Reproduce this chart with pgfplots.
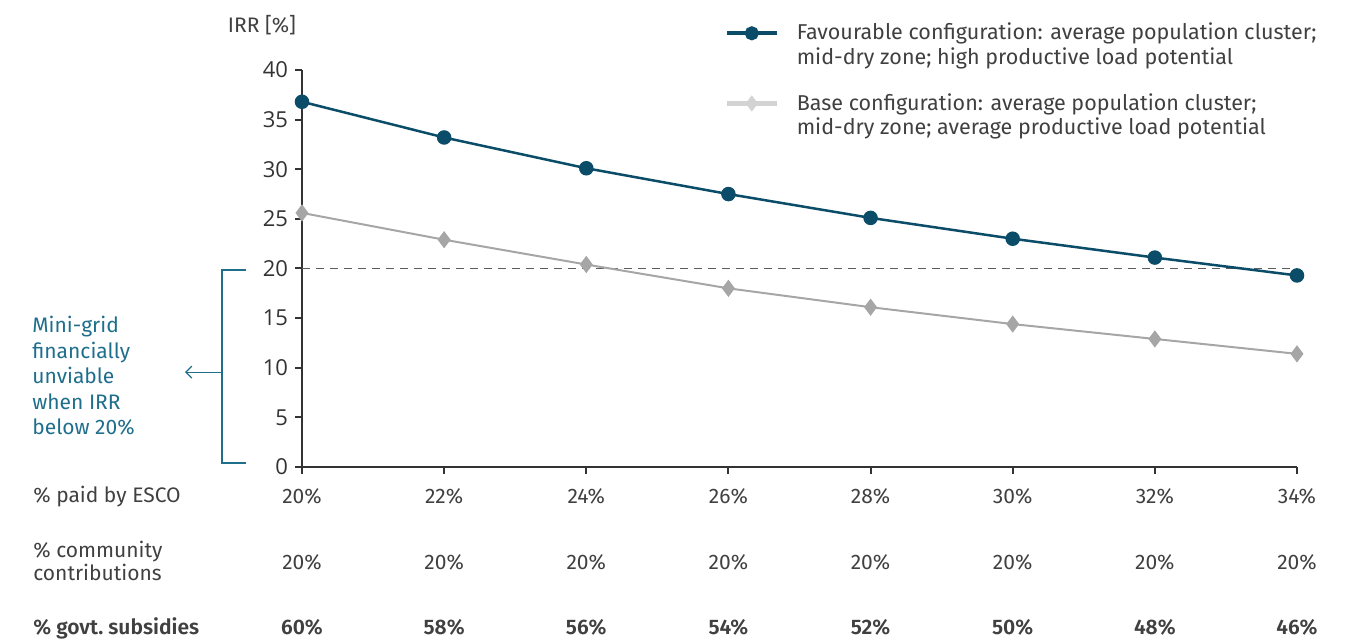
\documentclass[border=0pt]{standalone}
\usepackage{fontspec}
\setmainfont{Fira Sans}[BoldFont={Fira Sans SemiBold}]
\newfontfamily\tickfont{Open Sans}
\usepackage{pgfplots}
\pgfplotsset{compat=1.18}
\usetikzlibrary{arrows.meta}

\definecolor{fav}{HTML}{0B4D68}
\definecolor{base}{HTML}{A6A6A6}
\definecolor{baseleg}{HTML}{D3D3D3}
\definecolor{txt}{HTML}{404040}
\definecolor{axc}{HTML}{333333}
\definecolor{note}{HTML}{1F6E8C}

\begin{document}
\begin{tikzpicture}[font=\fontsize{10.5}{12.6}\selectfont, text=txt]
\begin{axis}[
  scale only axis, width=497.5pt, height=198.5pt,
  xmin=0, xmax=7, ymin=0, ymax=40,
  axis lines*=left,
  axis line style={axc, line width=1pt},
  tick style={axc, line width=1pt},
  tick align=outside, major tick length=3.5pt,
  ytick={0,5,...,40},
  xtick={0,...,7},
  xticklabels={
    {20\%\\[20pt]20\%\\[20pt]\textbf{60\%}},
    {22\%\\[20pt]20\%\\[20pt]\textbf{58\%}},
    {24\%\\[20pt]20\%\\[20pt]\textbf{56\%}},
    {26\%\\[20pt]20\%\\[20pt]\textbf{54\%}},
    {28\%\\[20pt]20\%\\[20pt]\textbf{52\%}},
    {30\%\\[20pt]20\%\\[20pt]\textbf{50\%}},
    {32\%\\[20pt]20\%\\[20pt]\textbf{48\%}},
    {34\%\\[20pt]20\%\\[20pt]\textbf{46\%}}},
  xticklabel style={align=center, text=txt, yshift=-4pt},
  yticklabel style={font=\tickfont\fontsize{11}{13}\selectfont, text=axc,
    /pgf/number format/assume math mode=true},
  clip=false,
  legend style={at={(axis description cs:0.418,1.139)}, anchor=north west,
    draw=none, fill=none, row sep=9pt,
    cells={align=left, anchor=west},
    font=\fontsize{10.75}{12.2}\selectfont},
  legend image code/.code={
    \path[draw=none, fill=none] (0pt,-9pt) rectangle (33pt,9pt);
    \draw[yshift=6pt, mark repeat=2, mark phase=2] plot coordinates {(0pt,0pt) (12.5pt,0pt) (25pt,0pt)};}
]
% 20% threshold
\addplot[color=axc!80, dash pattern=on 4pt off 3pt, line width=0.6pt, forget plot]
  coordinates {(0,20) (7,20)};

% Base configuration
\addplot[base, line width=1pt, mark=diamond*, mark size=3.5pt, forget plot]
  coordinates {(0,25.6) (1,22.9) (2,20.4) (3,18.0) (4,16.1) (5,14.4) (6,12.9) (7,11.4)};

% Favourable configuration
\addplot[fav, line width=1.25pt, mark=*, mark size=3pt, forget plot]
  coordinates {(0,36.8) (1,33.2) (2,30.1) (3,27.5) (4,25.1) (5,23.0) (6,21.1) (7,19.3)};

\addlegendimage{fav, line width=2pt, mark=*, mark size=2.5pt}
\addlegendentry{Favourable configuration: average population cluster;\\mid-dry zone; high productive load potential}
\addlegendimage{baseleg, line width=2.5pt, mark=diamond*, mark size=2pt}
\addlegendentry{Base configuration: average population cluster;\\mid-dry zone; average productive load potential}

% y label
\node at (axis description cs:-0.0402,1.113) {IRR [\%]};

% row labels
\node[anchor=west, inner sep=0pt] at (axis description cs:-0.2704,-0.0756) {\% paid by ESCO};
\node[anchor=west, inner sep=0pt, align=left, font=\fontsize{10.5}{11.5}\selectfont] at (axis description cs:-0.2704,-0.2355) {\% community\\contributions};
\node[anchor=west, inner sep=0pt] at (axis description cs:-0.2704,-0.4055) {\textbf{\% govt.\ subsidies}};

% viability note
\draw[note, line width=0.75pt] (axis description cs:-0.0563,0.496) -- (axis description cs:-0.0804,0.496)
  -- (axis description cs:-0.0804,0.010) -- (axis description cs:-0.0563,0.010);
\draw[note, line width=0.6pt, -{Straight Barb[length=3pt,width=6pt]}] (axis description cs:-0.0804,0.239) -- (axis description cs:-0.1176,0.239);
\node[anchor=west, inner sep=0pt, align=left, text=note, font=\fontsize{10.5}{12.75}\selectfont] at (axis description cs:-0.2714,0.2292)
  {Mini-grid\\financially\\unviable\\when IRR\\below 20\%};
\end{axis}
\pgfresetboundingbox
\path ([shift={(-151pt,-87.5pt)}]current axis.south west) rectangle ([shift={(527pt,233.5pt)}]current axis.south west);
\end{tikzpicture}
\end{document}
